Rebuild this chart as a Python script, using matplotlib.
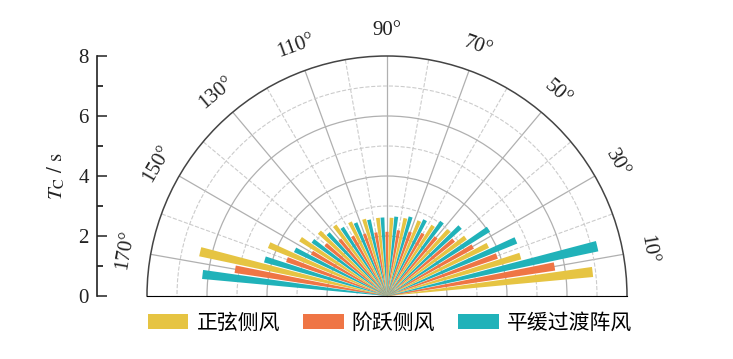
import numpy as np
import matplotlib
matplotlib.use('Agg')
import matplotlib.pyplot as plt
from matplotlib.patches import Patch

plt.rcParams['mathtext.fontset'] = 'stix'

# wind direction groups (deg) and Tc values (s)
angles = [10, 20, 30, 40, 50, 60, 70, 80, 90, 100, 110, 120, 130, 140, 150, 160, 170]
sine_wind = [6.9, 4.64, 3.76, 3.26, 3.0, 2.8, 2.72, 2.66, 2.61, 2.62, 2.67, 2.75, 2.92, 3.1, 3.45, 4.28, 6.4]
step_wind = [5.67, 3.9, 3.3, 2.9, 2.55, 2.4, 2.27, 2.22, 2.14, 2.15, 2.2, 2.3, 2.45, 2.67, 2.89, 3.55, 5.14]
smooth_wind = [7.2, 4.68, 4.05, 3.35, 3.07, 2.83, 2.75, 2.66, 2.62, 2.61, 2.65, 2.72, 2.86, 3.08, 3.43, 4.25, 6.19]
names = ['正弦侧风', '阶跃侧风', '平缓过渡阵风']
colors = ['#E6C442', '#EF7545', '#20B2B9']

W, H = 733, 359
fig = plt.figure(figsize=(W / 100, H / 100), dpi=100)

# polar half disk: centre (387,296), radius 240 px
# (matplotlib fits the half disk into half of the axes box)
ax = fig.add_axes([-93 / W, (H - 416) / H, 960 / W, 480 / H], projection='polar')
ax.set_thetamin(0)
ax.set_thetamax(180)
ax.set_ylim(0, 8)

th = np.deg2rad(np.array(angles, dtype=float))
off = np.deg2rad(10 / 3)
wd = np.deg2rad(2.8)
for k, (vals, c) in enumerate(zip([sine_wind, step_wind, smooth_wind], colors)):
    ax.bar(th + (k - 1) * off, vals, width=wd, color=c, zorder=3, linewidth=0)

ax.set_xticks(np.deg2rad(np.arange(10, 180, 20)))
ax.set_xticks(np.deg2rad(np.arange(0, 181, 20)), minor=True)
ax.set_xticklabels([])
ax.set_yticks([2, 4, 6])
ax.set_yticks([1, 3, 5, 7], minor=True)
ax.set_yticklabels([])
ax.xaxis.grid(True, which='major', color='#b0b0b0', lw=0.9, ls='-')
ax.xaxis.grid(True, which='minor', color='#cccccc', lw=0.8, ls='--')
ax.yaxis.grid(True, which='major', color='#b0b0b0', lw=0.9, ls='-')
ax.yaxis.grid(True, which='minor', color='#cccccc', lw=0.8, ls='--')
ax.tick_params(axis='x', which='both', direction='in', length=5, color='#444444', width=0.9)
ax.tick_params(axis='y', which='both', length=0)
ax.spines['polar'].set_color('#444444')
ax.spines['polar'].set_linewidth(1.1)
ax.spines['start'].set_visible(False)
ax.spines['end'].set_visible(False)
ax.set_axisbelow(True)

for a in range(10, 180, 20):
    ax.text(np.deg2rad(a), 8.85, f'{a}°', rotation=a - 90, rotation_mode='anchor',
            ha='center', va='center', fontsize=15, family='Liberation Serif',
            color='#222222')

# linear Tc scale on the left
lax = fig.add_axes([97 / W, (H - 296) / H, 0.001, 240 / H])
lax.set_ylim(0, 8)
lax.set_xticks([])
for s in ['top', 'right', 'bottom']:
    lax.spines[s].set_visible(False)
lax.spines['left'].set_color('#222222')
lax.spines['left'].set_linewidth(1.2)
lax.set_yticks([0, 2, 4, 6, 8])
lax.set_yticks([1, 3, 5, 7], minor=True)
lax.tick_params(axis='y', which='major', direction='in', length=7, width=1.1, pad=6,
                labelsize=15, colors='#222222')
lax.tick_params(axis='y', which='minor', direction='in', length=4, width=1.1)
for lb in lax.get_yticklabels():
    lb.set_family('Liberation Serif')
lax.set_ylabel(r'$T_\mathrm{C}\ /\ \mathrm{s}$', fontsize=15, labelpad=8, color='#222222')
lax.patch.set_visible(False)

handles = [Patch(facecolor=c, edgecolor='none') for c in colors]
leg = fig.legend(handles, names, loc='center', bbox_to_anchor=(390 / W, 1 - 323 / H),
                 ncol=3, frameon=False, handlelength=1.95, handleheight=0.72,
                 columnspacing=1.1, handletextpad=0.4,
                 prop={'family': ['Noto Sans CJK SC', 'DejaVu Sans'], 'size': 15})

fig.savefig('out.png', dpi=100)
